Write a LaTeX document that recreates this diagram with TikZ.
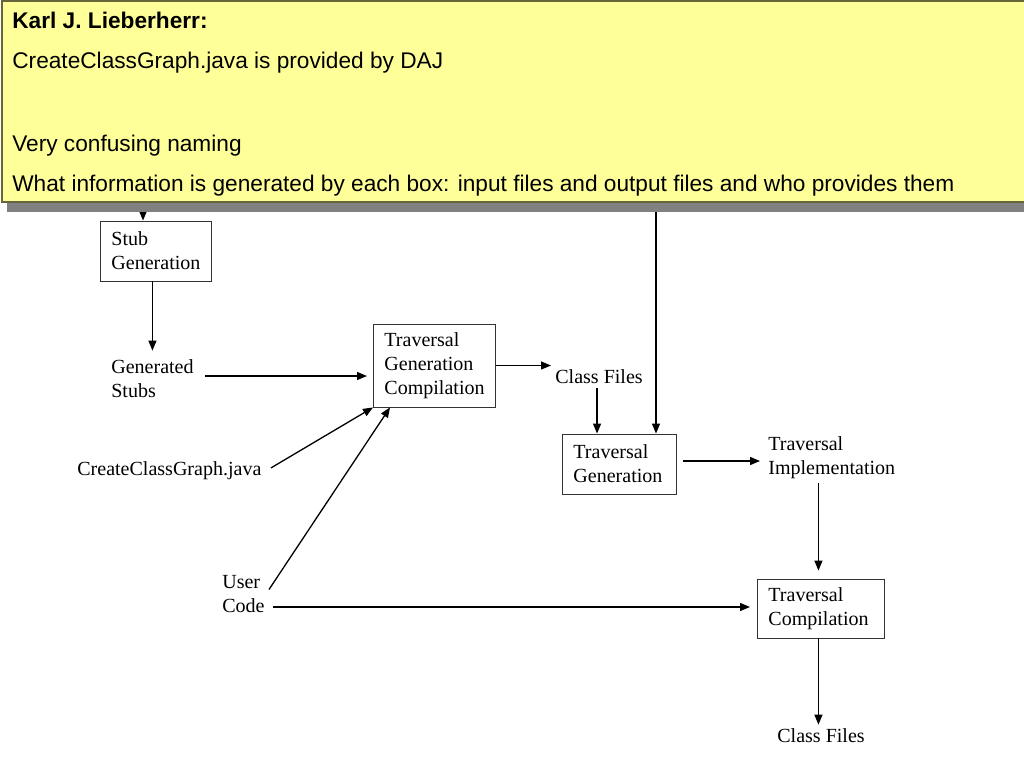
\documentclass[tikz,border=0pt]{standalone}
\usepackage{fontspec}
\setmainfont{Liberation Serif}
\newfontfamily\notefont{Liberation Sans}
\usetikzlibrary{arrows.meta,calc}
\definecolor{noteyellow}{HTML}{FFFF99}
\definecolor{noteborder}{HTML}{66663A}
\definecolor{noteshadow}{HTML}{808080}
\newcommand\diagfont{\fontsize{11.4}{13.66}\selectfont}
\tikzset{
	arr/.style={line width=0.026cm, -{Triangle[length=0.2cm,width=0.16cm]}},
	procbox/.style={draw=black!80, line width=0.018cm, anchor=west, align=left, inner xsep=0.22cm, inner ysep=0pt, font=\diagfont},
	txt/.style={anchor=west, align=left, inner sep=0.08cm, font=\diagfont},
	noteline/.style={anchor=base west, inner sep=0pt, font=\notefont\fontsize{12.9}{15}\selectfont},
}

\begin{document}
\begin{tikzpicture}[x=0.02cm, y=-0.02cm]
			%%%%% START %%%%%
			\useasboundingbox (0,0) rectangle (1024,768);
			
			% boxes and files
			\node[procbox, text width=1.78cm, minimum height=1.2cm] (stub) at (100,251) {Stub\\Generation};
			\node[txt] (genstubs) at (107,379) {Generated\\Stubs};
			\node[procbox, text width=2.0cm, minimum height=1.66cm] (tgc) at (373,365.5) {Traversal\\Generation\\Compilation};
			\node[txt] (classfiles) at (551,377) {Class Files};
			\node[procbox, text width=1.84cm, minimum height=1.2cm] (tgen) at (562,464) {Traversal\\Generation};
			\node[txt] (timpl) at (764,458) {Traversal\\Implementation};
			\node[procbox, text width=2.1cm, minimum height=1.18cm] (tcomp) at (757,608.5) {Traversal\\Compilation};
			\node[txt] (classfiles2) at (773,736) {Class Files};
			\node[txt] (ccg) at (73,471) {CreateClassGraph.java};
			\node[txt] (usercode) at (218,594) {User\\Code};
			
			% arrows coming from under the note
			\coordinate (stubsrc) at (143,190);
			\coordinate (tgensrc) at (656,190);
			\draw[arr] (stubsrc) -- (stubsrc |- stub.north);
			\draw[arr] (tgensrc) -- (tgensrc |- tgen.north);
			
			\draw[arr, shorten >=0.1cm] ([xshift=-0.07cm]stub.south) -- ([xshift=-0.07cm]stub.south |- genstubs.north);
			\draw[arr, shorten <=0.14cm, shorten >=0.12cm] ([yshift=0.06cm]genstubs.east) -- ([yshift=0.06cm]genstubs.east -| tgc.west);
			\draw[arr] (tgc.east) -- (tgc.east -| classfiles.west);
			\draw[arr] ([xshift=-0.04cm]classfiles.south) -- ([xshift=-0.04cm]classfiles.south |- tgen.north);
			\draw[arr, shorten <=0.12cm, shorten >=0.08cm] ([yshift=0.06cm]tgen.east) -- ([yshift=0.06cm]tgen.east -| timpl.west);
			\draw[arr, shorten >=0.16cm] ([xshift=-0.05cm]tcomp.north |- timpl.south) -- ([xshift=-0.05cm]tcomp.north);
			\draw[arr] ([xshift=-0.05cm]tcomp.south) -- ([xshift=-0.05cm]tcomp.south |- classfiles2.north);
			
			\draw[arr, shorten <=0.12cm] (ccg.east) -- (tgc.south west);
			\draw[arr] (usercode.10) -- ([xshift=0.34cm]tgc.south west);
			\draw[arr, shorten <=0.08cm, shorten >=0.14cm] ([yshift=-0.26cm]usercode.east) -- ([yshift=-0.26cm]usercode.east -| tcomp.west);
			
			% the note on top
			\fill[noteshadow] (7,11) rectangle (1030,212);
			\draw[noteborder, fill=noteyellow, line width=0.03cm] (2,1) rectangle (1030,202);
			\node[noteline] (notehead) at (12,28) {\bfseries Karl J. Lieberherr:};
			\node[noteline] (noteline1) at (12,68) {CreateClassGraph.java is provided by DAJ};
			\node[noteline] (noteline2) at (12,151) {Very confusing naming};
			\node[noteline] (noteline3) at (12,191) {What information is generated by each box: input files and output files and who provides them};
			
			%%%%% END %%%%%
		\end{tikzpicture}
\end{document}
